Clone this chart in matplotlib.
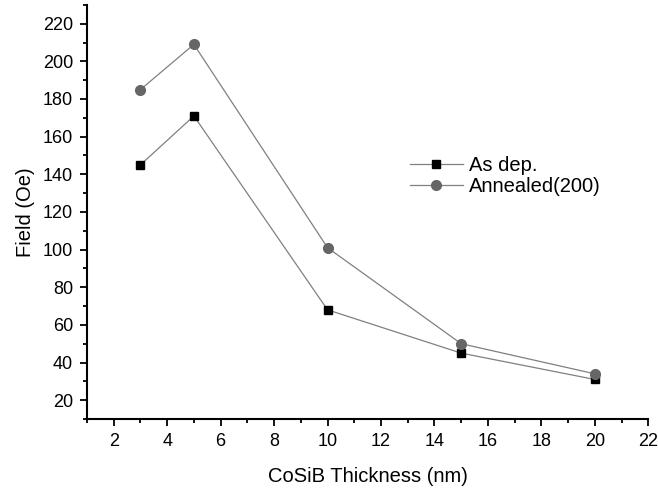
import matplotlib
matplotlib.use("Agg")
import matplotlib.pyplot as plt
from matplotlib.ticker import MultipleLocator

thickness = [3, 5, 10, 15, 20]
as_dep = [145, 171, 68, 45, 31]
annealed = [185, 209, 101, 50, 34]

plt.rcParams["font.family"] = ["Liberation Sans", "DejaVu Sans"]

fig = plt.figure(figsize=(6.58, 4.88), dpi=100)
ax = fig.add_axes([0.1322, 0.1414, 0.853, 0.8486])

ax.plot(thickness, as_dep, color="#808080", lw=0.9, marker="s", ms=6,
        mfc="black", mec="black", label="As dep.")
ax.plot(thickness, annealed, color="#808080", lw=0.9, marker="o", ms=7,
        mfc="#666666", mec="#666666", label="Annealed(200)")

ax.set_xlim(1, 22)
ax.set_ylim(10, 230)
ax.xaxis.set_major_locator(MultipleLocator(2))
ax.xaxis.set_minor_locator(MultipleLocator(1))
ax.yaxis.set_major_locator(MultipleLocator(20))
ax.yaxis.set_minor_locator(MultipleLocator(10))
ax.set_yticks(range(20, 221, 20))

for side in ("top", "right"):
    ax.spines[side].set_visible(False)
for side in ("left", "bottom"):
    ax.spines[side].set_linewidth(1.5)
ax.tick_params(which="major", direction="out", length=5, width=1.3, labelsize=13, pad=5)
ax.tick_params(which="minor", direction="out", length=3, width=1.3)

ax.set_xlabel("CoSiB Thickness (nm)", fontsize=14.5, labelpad=12)
ax.set_ylabel("Field (Oe)", fontsize=14.5, labelpad=6)

ax.legend(loc="upper left", bbox_to_anchor=(0.576, 0.635), frameon=False,
          fontsize=14.5, handlelength=2.6, handletextpad=0.3, labelspacing=0.1,
          borderpad=0, borderaxespad=0)

fig.savefig("out.png", dpi=100)
